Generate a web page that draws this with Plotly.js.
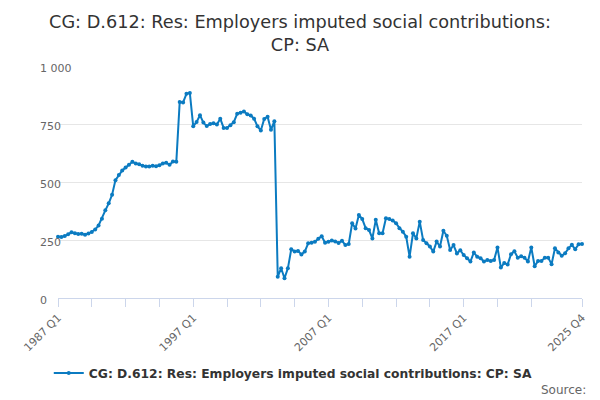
<!DOCTYPE html>
<html><head><meta charset="utf-8">
<script src="https://cdn.plot.ly/plotly-3.0.1.min.js"></script>
<style>html,body{margin:0;padding:0;background:#fff}</style>
</head><body><div id="chart" style="width:600px;height:400px"></div>
<script>
const seriesName = "CG: D.612: Res: Employers imputed social contributions: CP: SA";
const startYear = 1987, endYear = 2025;
const quarters = [];
for (let y = startYear; y <= endYear; y++) for (let q = 1; q <= 4; q++) quarters.push(y + " Q" + q);

const values = [
 264,263,267,275,283,279,276,277,273,278,
 285,295,313,342,378,408,445,508,530,550,
 562,574,587,580,577,570,567,567,570,568,
 572,580,583,574,588,587,845,843,880,884,
 740,759,788,756,741,750,753,748,773,733,
 733,745,758,794,799,804,792,787,773,740,
 722,772,781,725,762,92,128,85,128,210,
 200,203,188,200,236,238,242,255,266,238,
 242,248,244,237,247,228,233,322,300,358,
 340,301,293,257,337,279,279,344,340,334,
 322,301,286,264,178,279,257,329,250,236,
 222,200,243,222,290,268,207,228,192,206,
 185,171,157,196,178,171,157,164,160,164,
 218,131,151,144,189,201,174,180,174,157,
 218,137,160,160,174,174,146,214,196,182,
 193,214,229,210,232,233
];

const xTickVals = ["1987 Q1","1989 Q3","1992 Q1","1994 Q3","1997 Q1","1999 Q3","2002 Q1","2004 Q3","2007 Q1","2009 Q3","2012 Q1","2014 Q3","2017 Q1","2019 Q3","2022 Q1","2025 Q4"];
const xTickText = ["1987 Q1","","","","1997 Q1","","","","2007 Q1","","","","2017 Q1","","","2025 Q4"];
const yTickVals = [0,250,500,750,1000];

const lineColor = "#0b7bc1";
const trace = {
  type: "scatter", mode: "lines+markers", name: seriesName,
  x: quarters, y: values,
  line: {color: lineColor, width: 2},
  marker: {color: lineColor, size: 4},
  cliponaxis: false
};

const layout = {
  width: 600, height: 400,
  paper_bgcolor: "#fff", plot_bgcolor: "#fff",
  separators: ". ",
  font: {family: "DejaVu Sans", color: "#666"},
  margin: {l: 58, r: 18, t: 66, b: 102},
  title: {
    text: "CG: D.612: Res: Employers imputed social contributions:<br>CP: SA",
    font: {family: "DejaVu Sans", size: 17.7, color: "#333"},
    x: 0.5, xanchor: "center", y: 0.93, yanchor: "middle"
  },
  xaxis: {
    type: "category", range: [0, quarters.length - 1],
    tickmode: "array", tickvals: xTickVals, ticktext: xTickText,
    tickangle: -45, tickfont: {size: 11, color: "#666"},
    ticks: "outside", ticklen: 8, tickcolor: "#ccd6eb", tickwidth: 1,
    showline: true, linecolor: "#ccd6eb", linewidth: 1,
    showgrid: false, zeroline: false
  },
  yaxis: {
    range: [0, 1000], tickmode: "array", tickvals: yTickVals, tickformat: ",d",
    tickfont: {size: 11, color: "#666"},
    gridcolor: "#e6e6e6", gridwidth: 1, zeroline: false, showline: false, ticks: "",
    ticklabelposition: "inside", ticklabelstandoff: -21, ticklabeloverflow: "allow",
    ticklabelshift: 2
  },
  showlegend: true,
  legend: {
    orientation: "h", x: 0.449, xanchor: "center", y: -0.323, yanchor: "middle",
    font: {family: "DejaVu Sans", size: 12.3, color: "#333", weight: "bold"}
  },
  annotations: [{
    text: "Source:", xref: "paper", yref: "paper", x: 1, y: -0.397,
    xanchor: "right", yanchor: "middle", xshift: 6, showarrow: false,
    font: {family: "DejaVu Sans", size: 12, color: "#666"}
  }]
};

Plotly.newPlot("chart", [trace], layout, {displayModeBar: false, staticPlot: true});
</script></body></html>
